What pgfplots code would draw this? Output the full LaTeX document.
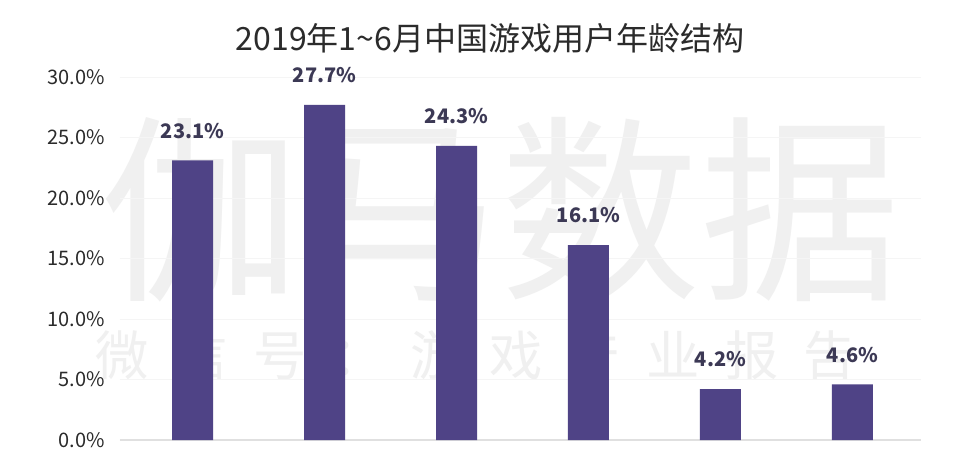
\documentclass[border=0pt]{standalone}
\usepackage{pgfplots}
\pgfplotsset{compat=1.18}
\usepackage{fontspec}
\setmainfont{Noto Sans CJK SC}
\newfontfamily\cjk{Noto Sans CJK SC}
\definecolor{barc}{HTML}{4F4386}
\definecolor{lblc}{HTML}{3C3955}
\definecolor{wm}{HTML}{F0F0F0}
\definecolor{txt}{HTML}{2B2B2B}
\newcommand{\wc}[1]{\makebox[59pt]{#1}}
\begin{document}
\begin{tikzpicture}[x=0.75pt,y=0.75pt]
\useasboundingbox[fill=white] (-120,-25) rectangle (840,440);
% watermark
\node[text=wm,font=\fontsize{150pt}{150pt}\selectfont,inner sep=0] at (380,230) {伽马数据};
\node[text=wm,font=\fontsize{40pt}{40pt}\selectfont,inner sep=0,anchor=west] at (-37,85) {\wc{微}\wc{信}\wc{号}\wc{：}\wc{游}\wc{戏}\wc{产}\wc{业}\wc{报}\wc{告}};
\node[text=txt,font=\fontsize{24pt}{28pt}\selectfont] at (370,402) {2019年1\textasciitilde6月中国游戏用户年龄结构};
\begin{axis}[
  at={(0,0)}, anchor=south west,
  scale only axis,
  width=600.75pt, height=272.25pt,
  xmin=-0.55, xmax=5.52,
  ymin=0, ymax=30,
  axis line style={draw=none},
  tick style={draw=none},
  xtick=\empty,
  ytick={0,5,10,15,20,25,30},
  yticklabels={0.0\%,5.0\%,10.0\%,15.0\%,20.0\%,25.0\%,30.0\%},
  yticklabel style={font=\fontsize{15pt}{18pt}\selectfont, text=txt, xshift=-8pt},
  ymajorgrids,
  major grid style={draw=black!4, line width=0.6pt},
  clip=false,
]
\draw[black!12, line width=0.8pt] (axis cs:-0.55,0) -- (axis cs:5.52,0);
\addplot[ybar, bar width=30.75pt, fill=barc, draw=none,
  point meta=explicit symbolic,
  nodes near coords,
  nodes near coords style={font=\bfseries\fontsize{15pt}{18pt}\selectfont, text=lblc, yshift=13pt}]
  coordinates {
    (0,23.1) [23.1\%]
    (1,27.7) [27.7\%]
    (2,24.3) [24.3\%]
    (3,16.1) [16.1\%]
    (4,4.2) [4.2\%]
    (5,4.6) [4.6\%]
  };
\end{axis}
\end{tikzpicture}
\end{document}
